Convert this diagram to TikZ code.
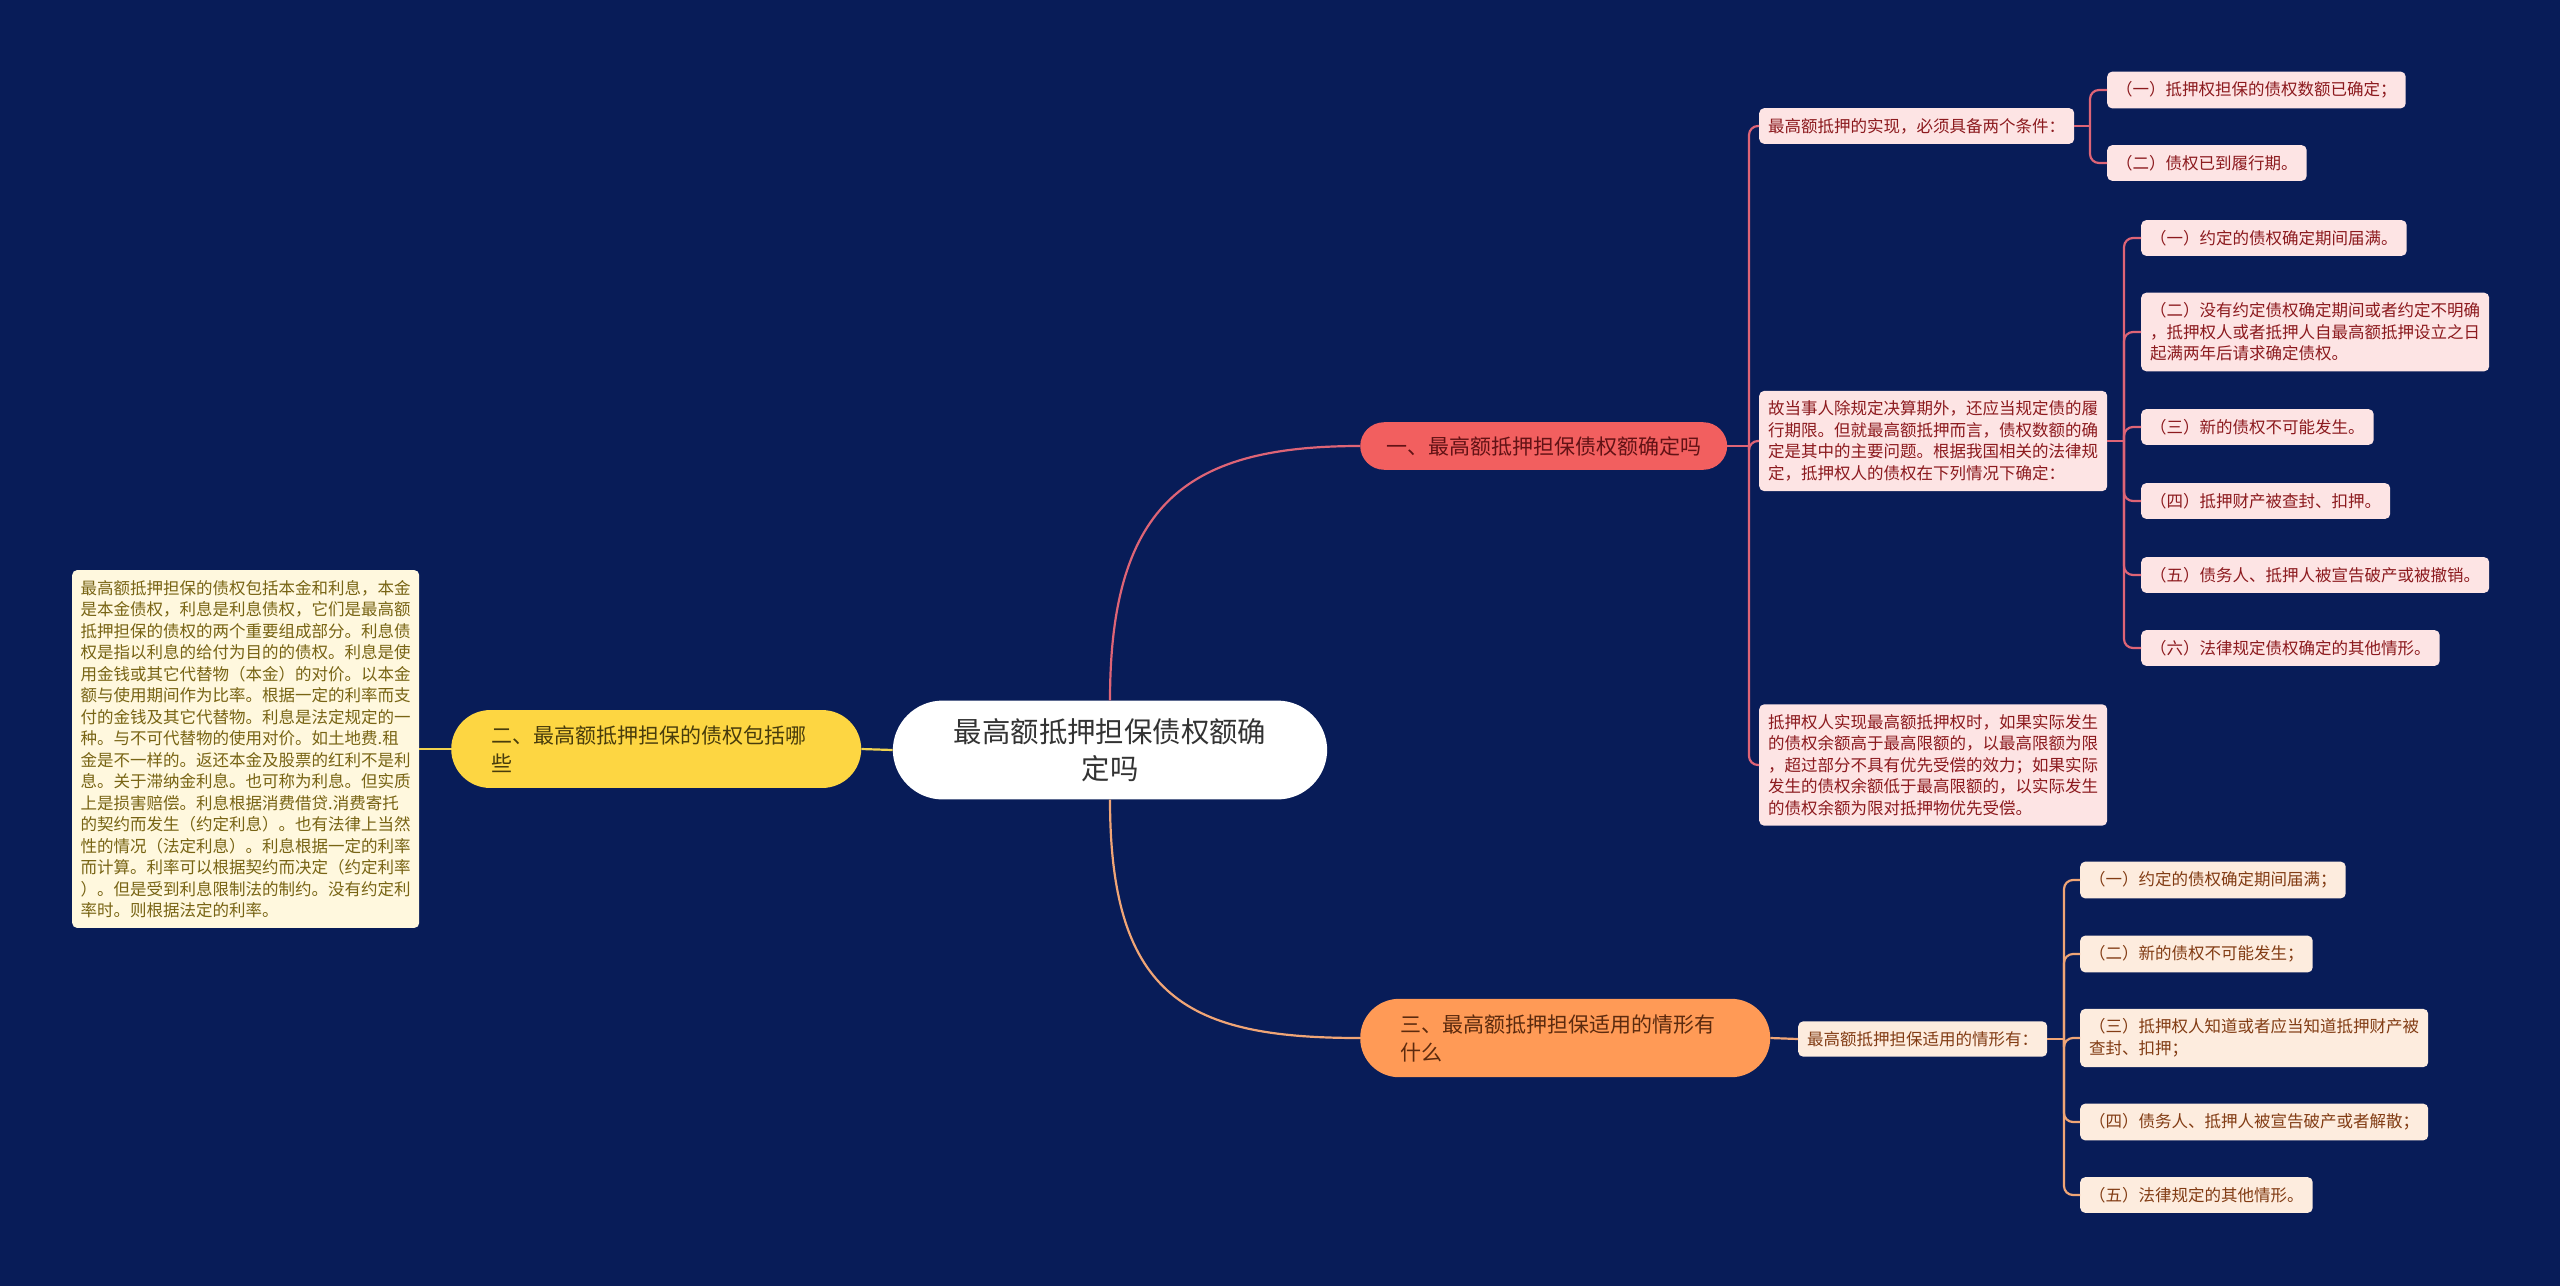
\documentclass[tikz,border=0pt]{standalone}
\usepackage{fontspec}
\setmainfont{Noto Sans CJK SC}
\usepackage{tikz}
\definecolor{bgblue}{RGB}{8, 28, 88}
\definecolor{myred}{RGB}{242, 95, 95}
\definecolor{myyellow}{RGB}{253, 214, 66}
\definecolor{myorange}{RGB}{255, 154, 86}
\definecolor{linered}{RGB}{222, 100, 118}
\definecolor{lineorange}{RGB}{240, 165, 118}
\definecolor{lineyellow}{RGB}{240, 210, 80}
\definecolor{leafred}{RGB}{253, 228, 228}
\definecolor{leaforange}{RGB}{253, 236, 222}
\definecolor{leafyellow}{RGB}{255, 248, 222}
\definecolor{textred}{RGB}{140, 26, 30}
\definecolor{textorange}{RGB}{130, 60, 20}
\definecolor{textyellow}{RGB}{120, 100, 20}

\begin{document}
\begin{tikzpicture}[x=1pt, y=-1pt,
	leafr/.style={fill=leafred, text=textred, rounded corners=5pt, inner xsep=9pt, inner ysep=10pt, align=left, anchor=west, font=\fontsize{16.5}{21.5}\selectfont},
	leafo/.style={leafr, fill=leaforange, text=textorange},
	leafy/.style={leafr, fill=leafyellow, text=textyellow, inner xsep=8.5pt},
	branch/.style={rounded corners=24pt, inner xsep=26pt, inner ysep=14pt, anchor=west, font=\fontsize{21}{28}\selectfont},
	branchtwo/.style={branch, rounded corners=39pt, inner xsep=40pt, inner ysep=15.5pt, text width=330pt, align=left},
	redline/.style={linered, line width=2.2pt},
	orangeline/.style={lineorange, line width=2.2pt}]
		%Hintergrund
		\fill[bgblue] (0,0) rectangle (2560,1286);
		\useasboundingbox (0,0) rectangle (2560,1286);
		% Zentrum und Hauptaeste
		\node[fill=white, text=black!80, rounded corners=50pt, inner xsep=61pt, inner ysep=17.5pt, align=center, font=\fontsize{28.4}{37.6}\selectfont] (root) at (1110,750) {最高额抵押担保债权额确\\定吗};
		\node[branch, fill=myred, text=textred!70!black] (one) at (1360,446) {一、最高额抵押担保债权额确定吗};
		\node[branchtwo, fill=myyellow, text=textyellow!60!black] (two) at (451,749) {二、最高额抵押担保的债权包括哪\\些};
		\node[branchtwo, fill=myorange, text=textorange!70!black] (three) at (1360,1038) {三、最高额抵押担保适用的情形有\\什么};
		% Ast zwei
		\node[leafy] (twotext) at (72,749) {最高额抵押担保的债权包括本金和利息，本金\\
是本金债权，利息是利息债权，它们是最高额\\
抵押担保的债权的两个重要组成部分。利息债\\
权是指以利息的给付为目的的债权。利息是使\\
用金钱或其它代替物（本金）的对价。以本金\\
额与使用期间作为比率。根据一定的利率而支\\
付的金钱及其它代替物。利息是法定规定的一\\
种。与不可代替物的使用对价。如土地费.租\\
金是不一样的。返还本金及股票的红利不是利\\
息。关于滞纳金利息。也可称为利息。但实质\\
上是损害赔偿。利息根据消费借贷.消费寄托\\
的契约而发生（约定利息）。也有法律上当然\\
性的情况（法定利息）。利息根据一定的利率\\
而计算。利率可以根据契约而决定（约定利率\\
）。但是受到利息限制法的制约。没有约定利\\
率时。则根据法定的利率。};
		% Ast eins
		\node[leafr] (cond) at (1759,126) {最高额抵押的实现，必须具备两个条件：};
		\node[leafr] (fix) at (1759,441) {故当事人除规定决算期外，还应当规定债的履\\
行期限。但就最高额抵押而言，债权数额的确\\
定是其中的主要问题。根据我国相关的法律规\\
定，抵押权人的债权在下列情况下确定：};
		\node[leafr] (limit) at (1759,765) {抵押权人实现最高额抵押权时，如果实际发生\\
的债权余额高于最高限额的，以最高限额为限\\
，超过部分不具有优先受偿的效力；如果实际\\
发生的债权余额低于最高限额的，以实际发生\\
的债权余额为限对抵押物优先受偿。};
		\node[leafr] (conda) at (2107,90) {（一）抵押权担保的债权数额已确定；};
		\node[leafr] (condb) at (2107,163) {（二）债权已到履行期。};
		\node[leafr] (fixa) at (2141,238) {（一）约定的债权确定期间届满。};
		\node[leafr] (fixb) at (2141,332) {（二）没有约定债权确定期间或者约定不明确\\
，抵押权人或者抵押人自最高额抵押设立之日\\
起满两年后请求确定债权。};
		\node[leafr] (fixc) at (2141,427) {（三）新的债权不可能发生。};
		\node[leafr] (fixd) at (2141,501) {（四）抵押财产被查封、扣押。};
		\node[leafr] (fixe) at (2141,575) {（五）债务人、抵押人被宣告破产或被撤销。};
		\node[leafr] (fixf) at (2141,648) {（六）法律规定债权确定的其他情形。};
		% Ast drei
		\node[leafo] (case) at (1798,1039) {最高额抵押担保适用的情形有：};
		\node[leafo] (casea) at (2080,880) {（一）约定的债权确定期间届满；};
		\node[leafo] (caseb) at (2080,954) {（二）新的债权不可能发生；};
		\node[leafo] (casec) at (2080,1038) {（三）抵押权人知道或者应当知道抵押财产被\\
查封、扣押；};
		\node[leafo] (cased) at (2080,1122) {（四）债务人、抵押人被宣告破产或者解散；};
		\node[leafo] (casee) at (2080,1195) {（五）法律规定的其他情形。};
		%Verbindungen zeichnen
		\draw[redline] (root.north) .. controls +(0,-200) and +(-170,0) .. (one.west);
		\draw[orangeline] (root.south) .. controls +(0,200) and +(-170,0) .. (three.west);
		\draw[lineyellow, line width=2.2pt] (root.west) -- (two.east);
		\draw[lineyellow, line width=2.2pt] (two.west) -- (twotext.east);
		\draw[orangeline] (three.east) -- (case.west);
		% Verzweigungen
		\coordinate (forkone) at (1749,446);
		\coordinate (forkcond) at (2090,126);
		\coordinate (forkfix) at (2124,441);
		\coordinate (forkcase) at (2064,1039);
		\draw[redline] (one.east) -- (forkone);
		\draw[redline] (cond.east) -- (forkcond);
		\draw[redline] (fix.east) -- (forkfix);
		\draw[orangeline] (case.east) -- (forkcase);
		\foreach \k in {cond,fix,limit} \draw[redline, rounded corners=9pt] (forkone) |- (\k.west);
		\foreach \k in {conda,condb} \draw[redline, rounded corners=9pt] (forkcond) |- (\k.west);
		\foreach \k in {fixa,fixb,fixc,fixd,fixe,fixf} \draw[redline, rounded corners=9pt] (forkfix) |- (\k.west);
		\foreach \k in {casea,caseb,casec,cased,casee} \draw[orangeline, rounded corners=9pt] (forkcase) |- (\k.west);
\end{tikzpicture}
\end{document}
